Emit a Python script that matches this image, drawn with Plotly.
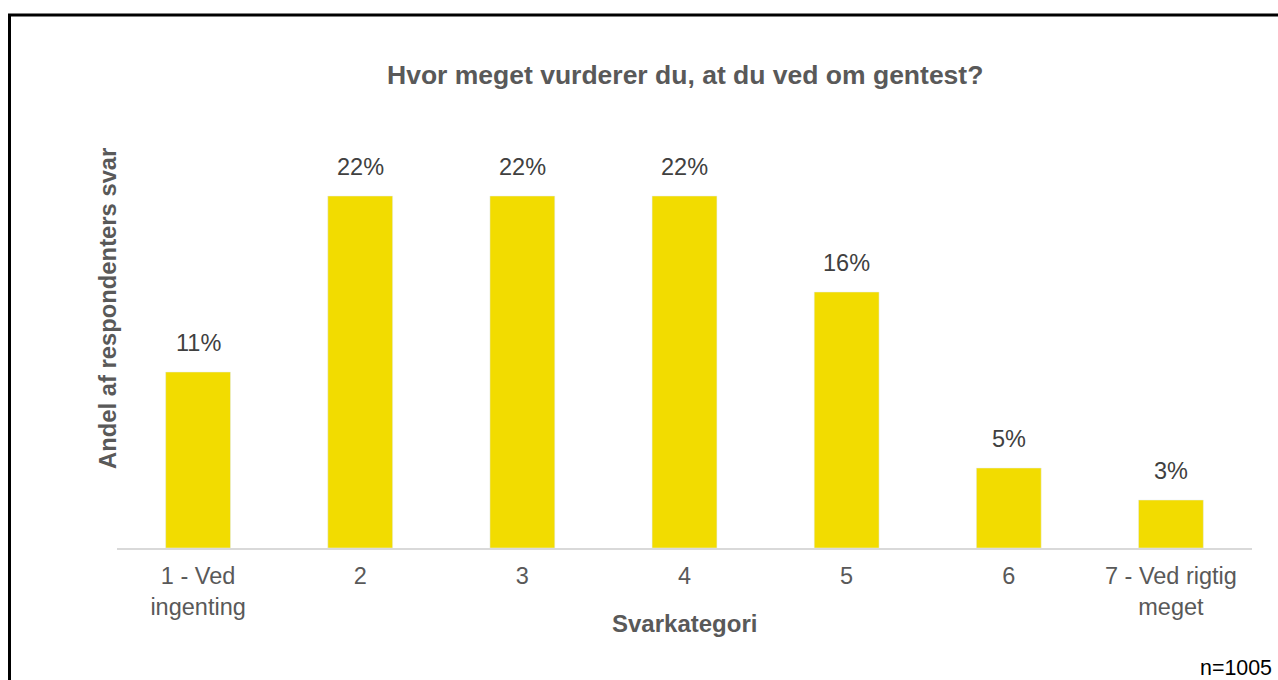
import plotly.graph_objects as go

categories = ["1 - Ved<br>ingenting", "2", "3", "4", "5", "6", "7 - Ved rigtig<br>meget"]
values = [0.11, 0.22, 0.22, 0.22, 0.16, 0.05, 0.03]
labels = ["11%", "22%", "22%", "22%", "16%", "5%", "3%"]

title_text = "Hvor meget vurderer du, at du ved om gentest?"
x_title = "Svarkategori"
y_title = "Andel af respondenters svar"
note = "n=1005"

FONT = "Liberation Sans, Arial, sans-serif"
BAR = "#f2dc00"

L, R, T, B = 117, 26, 148, 132
W, H = 1278, 680
pw, ph = W - L - R, H - T - B

def px(x):
    return (x - L) / pw

def py(y):
    return (H - B - y) / ph

pos = list(range(len(categories)))

fig = go.Figure()
fig.add_trace(go.Bar(
    x=pos, y=values, marker_color=BAR, width=0.4,
    hoverinfo="skip", showlegend=False,
))

for p, v, t in zip(pos, values, labels):
    fig.add_annotation(x=p, y=v, text=t, showarrow=False, yanchor="bottom",
                       yshift=14, font=dict(family=FONT, size=23.5, color="#404040"))

fig.add_annotation(xref="paper", yref="paper", x=0.5, y=py(75), text=f"<b>{title_text}</b>",
                   showarrow=False, xanchor="center", yanchor="middle",
                   font=dict(family=FONT, size=26.5, color="#595959"))
fig.add_annotation(xref="paper", yref="paper", x=0.5, y=py(623), text=f"<b>{x_title}</b>",
                   showarrow=False, xanchor="center", yanchor="middle",
                   font=dict(family=FONT, size=24, color="#595959"))
fig.add_annotation(xref="paper", yref="paper", x=px(107), y=py(309), text=f"<b>{y_title}</b>",
                   showarrow=False, textangle=-90, xanchor="center", yanchor="middle",
                   font=dict(family=FONT, size=23.8, color="#595959"))
fig.add_annotation(xref="paper", yref="paper", x=px(1274), y=py(668), text=note,
                   showarrow=False, xanchor="right", yanchor="middle",
                   font=dict(family=FONT, size=21.4, color="#000000"))

# frame lines
fig.add_shape(type="line", xref="paper", yref="paper", x0=px(8), x1=px(1300), y0=py(15), y1=py(15),
              line=dict(color="#000000", width=3))
fig.add_shape(type="line", xref="paper", yref="paper", x0=px(9.5), x1=px(9.5), y0=py(14), y1=py(700),
              line=dict(color="#000000", width=3))

fig.update_layout(
    width=W, height=H,
    margin=dict(l=L, r=R, t=T, b=B),
    paper_bgcolor="white", plot_bgcolor="white",
    font=dict(family=FONT, size=20, color="#595959"),
    xaxis=dict(showline=True, linecolor="#d9d9d9", linewidth=2, showgrid=False,
               ticks="", tickmode="array", tickvals=pos, ticktext=categories,
               tickfont=dict(size=23.5, color="#595959"), range=[-0.5, 6.5],
               ticklabelstandoff=6, fixedrange=True),
    yaxis=dict(range=[0, 0.25], showticklabels=False, showgrid=False, zeroline=False,
               showline=False, fixedrange=True),
)

fig.write_html("out.html", config={"displayModeBar": False},
               post_script="document.body.style.margin='0';document.body.style.overflow='hidden';")
